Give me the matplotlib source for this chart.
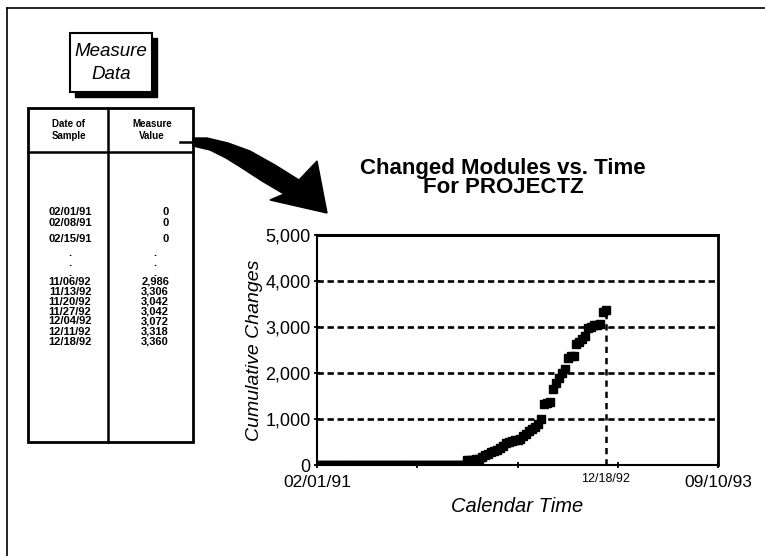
import matplotlib
matplotlib.use('Agg')
import matplotlib.pyplot as plt
from matplotlib.patches import Polygon, Rectangle
from matplotlib.lines import Line2D
import numpy as np
import pandas as pd

plt.rcParams['font.family'] = ['Liberation Sans', 'DejaVu Sans']

# weekly samples, 02/01/91 .. 12/18/92
start_date = '1991-02-01'
last_date = '1992-12-18'
end_date = '1993-09-10'
cum_changes = [
    0, 0, 0, 0, 0, 0, 0, 0, 0, 0,
    0, 0, 0, 0, 0, 0, 0, 0, 0, 0,
    0, 0, 0, 0, 0, 0, 0, 0, 0, 0,
    0, 0, 0, 0, 0, 0, 0, 0, 0, 0,
    0, 0, 0, 0, 0, 0, 0, 0, 0, 0,
    0, 100, 110, 115, 120, 140, 170, 210, 250, 280,
    300, 330, 370, 420, 470, 510, 530, 540, 550, 570,
    620, 680, 740, 780, 830, 900, 1000, 1320, 1350, 1380,
    1650, 1780, 1900, 2000, 2080, 2330, 2360, 2380, 2620, 2680,
    2740, 2800, 2986, 3010, 3042, 3042, 3072, 3318, 3360,
]
y_ticks = [0, 1000, 2000, 3000, 4000, 5000]
y_tick_labels = ['0', '1,000', '2,000', '3,000', '4,000', '5,000']
x_tick_labels = ['02/01/91', '', '', '', '09/10/93']

# table contents
table_header = [('Date of\nSample', 'Measure\nValue')]
table_dates = ['02/01/91', '02/08/91', '02/15/91', '.', '.', '.',
               '11/06/92', '11/13/92', '11/20/92', '11/27/92',
               '12/04/92', '12/11/92', '12/18/92']
table_values = ['0', '0', '0', '.', '.', '.',
                '2,986', '3,306', '3,042', '3,042',
                '3,072', '3,318', '3,360']
row_y = [212, 223, 239, 253, 263, 273, 282, 292, 302, 312, 321, 332, 342]

W, H = 765, 556
fig = plt.figure(figsize=(7.65, 5.56), dpi=100)


def fx(x):
    return x / W


def fy(y):
    return 1 - y / H


# outer page frame (top and left)
fig.add_artist(Line2D([fx(7), 1], [fy(8), fy(8)], color='black', lw=1.2))
fig.add_artist(Line2D([fx(7), fx(7)], [fy(8), 0], color='black', lw=1.2))

# "Measure Data" box with shadow
fig.add_artist(Rectangle((fx(75), fy(97)), fx(82), fy(38) - fy(97),
                         facecolor='black', edgecolor='black'))
fig.add_artist(Rectangle((fx(70), fy(92)), fx(82), fy(33) - fy(92),
                         facecolor='white', edgecolor='black', lw=1.5))
fig.text(fx(111), fy(51), 'Measure', ha='center', va='center',
         fontsize=13.5, style='italic')
fig.text(fx(111), fy(74), 'Data', ha='center', va='center',
         fontsize=13.5, style='italic')

# table
fig.add_artist(Rectangle((fx(28), fy(442)), fx(165), fy(108) - fy(442),
                         facecolor='none', edgecolor='black', lw=2))
fig.add_artist(Line2D([fx(108), fx(108)], [fy(108), fy(442)], color='black', lw=1.8))
fig.add_artist(Line2D([fx(28), fx(193)], [fy(152), fy(152)], color='black', lw=1.8))
for left, right in table_header:
    fig.text(fx(69), fy(130), left, ha='center', va='center',
             fontsize=7, fontweight='bold', linespacing=1.2)
    fig.text(fx(152), fy(130), right, ha='center', va='center',
             fontsize=7, fontweight='bold', linespacing=1.2)
for d, v, y in zip(table_dates, table_values, row_y):
    if d == '.':
        fig.text(fx(70), fy(y), d, ha='center', va='center', fontsize=8, fontweight='bold')
        fig.text(fx(155), fy(y), v, ha='center', va='center', fontsize=8, fontweight='bold')
    else:
        fig.text(fx(70), fy(y), d, ha='center', va='center', fontsize=8, fontweight='bold')
        fig.text(fx(169), fy(y), v, ha='right', va='center', fontsize=8, fontweight='bold')

# big arrow from the table to the chart
fig.add_artist(Line2D([fx(180), fx(196)], [fy(142), fy(142)], color='black', lw=1.8))
arrow_px = [(193, 138), (207, 138), (228, 143), (250, 151), (275, 165), (299, 180),
            (317, 161), (327, 213), (270, 200), (284, 194), (262, 181), (242, 168),
            (226, 158), (210, 150), (193, 146)]
fig.add_artist(Polygon([(fx(x), fy(y)) for x, y in arrow_px], closed=True,
                       facecolor='black', edgecolor='black'))

# chart
ax = fig.add_axes([fx(317), fy(465), fx(718) - fx(317), fy(235) - fy(465)])
dates = pd.date_range(start_date, last_date, freq='7D')
ax.plot(dates, cum_changes, 's', color='black', markersize=6, zorder=3)

x0 = pd.Timestamp(start_date)
x1 = pd.Timestamp(end_date)
ax.set_xlim(x0, x1)
ax.set_ylim(0, 5000)

ax.set_yticks(y_ticks)
ax.set_yticklabels(y_tick_labels, fontsize=13)
xt = [x0 + (x1 - x0) * k / 4 for k in range(5)]
ax.set_xticks(xt)
ax.set_xticklabels(x_tick_labels, fontsize=12.5)
ax.tick_params(direction='inout', length=5, width=1.3, pad=2)
ax.tick_params(axis='x', pad=5)

ax.grid(axis='y', color='black', linewidth=1.9, linestyle=(0, (2.4, 1.4)))
ax.set_axisbelow(True)

ax.spines['top'].set_linewidth(2.2)
ax.spines['right'].set_linewidth(2)
ax.spines['left'].set_linewidth(1.5)
ax.spines['bottom'].set_linewidth(1.5)

# marker line at last sample
ld = pd.Timestamp(last_date)
ax.plot([ld, ld], [0, cum_changes[-1]], color='black', lw=1.8,
        linestyle=(0, (2.5, 2)), zorder=2)
ax.text(ld, -0.06, '12/18/92', transform=ax.get_xaxis_transform(),
        ha='center', va='center', fontsize=9)

ax.set_xlabel('Calendar Time', fontsize=14.5, style='italic', labelpad=5)
ax.set_ylabel('Cumulative Changes', fontsize=14, style='italic', labelpad=2)

fig.text(fx(503), fy(178), 'Changed Modules vs. Time\nFor PROJECTZ',
         ha='center', va='center', fontsize=16, fontweight='bold',
         linespacing=0.85)

fig.savefig('out.png', dpi=100)
